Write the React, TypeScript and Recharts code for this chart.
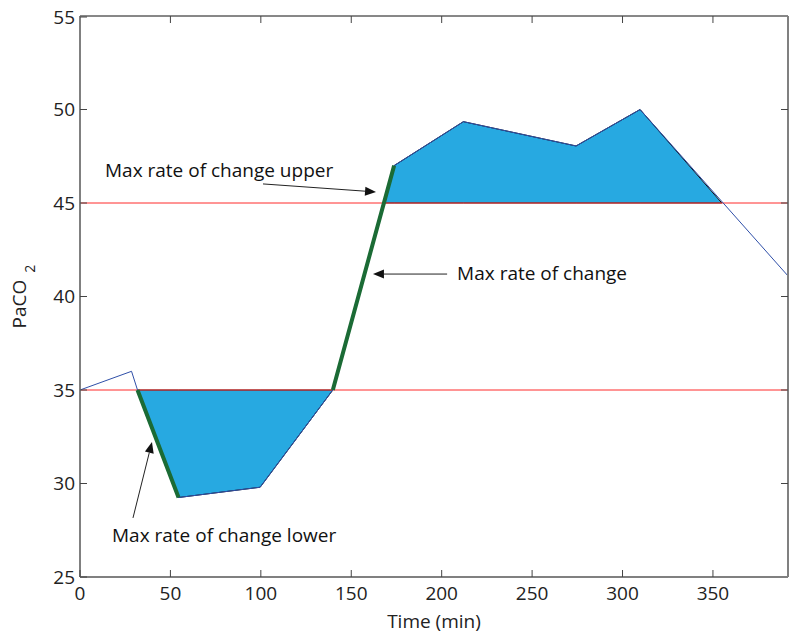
import React from 'react';
import {
  ComposedChart,
  Line,
  Area,
  XAxis,
  YAxis,
  ReferenceLine,
} from 'recharts';

const FONT = '"Open Sans", sans-serif';

// PaCO2 trace
const TIME = [0, 28.5, 31.8, 54.5, 99.6, 139.8, 173.7, 212, 274.3, 309.7, 391.5];
const PACO2 = [35, 36, 35, 29.25, 29.8, 35, 47, 49.35, 48.05, 50, 41.1];

// steepest segments (time range)
const STEEP_LOWER = [31.8, 54.5];
const STEEP_UPPER = [139.8, 173.7];

const LOWER_LIMIT = 35;
const UPPER_LIMIT = 45;

// shaded excursions outside the limits
const LOWER_BAND_TIME = [31.8, 54.5, 99.6, 139.8];
const LOWER_BAND_VALUE = [35, 29.25, 29.8, 35];
const UPPER_BAND_TIME = [168.2, 173.7, 212, 274.3, 309.7, 354.9];
const UPPER_BAND_VALUE = [45, 47, 49.35, 48.05, 50, 45];

const X_DOMAIN = [0, 391.5];
const Y_DOMAIN = [25, 55];
const X_TICKS = [0, 50, 100, 150, 200, 250, 300, 350];
const Y_TICKS = [25, 30, 35, 40, 45, 50, 55];

const isSteep = (t: number) =>
  STEEP_LOWER.includes(t) || STEEP_UPPER.includes(t);

const trace = TIME.map((t, i) => ({
  t,
  paco2: PACO2[i],
  steep: isSteep(t) ? PACO2[i] : null,
}));

const lowerBand = LOWER_BAND_TIME.map((t, i) => ({
  t,
  band: [LOWER_LIMIT, LOWER_BAND_VALUE[i]],
}));
const upperBand = UPPER_BAND_TIME.map((t, i) => ({
  t,
  band: [UPPER_LIMIT, UPPER_BAND_VALUE[i]],
}));

// annotation arrows: tail -> head in data coords, text offset from tail in px
const ANNOTATIONS = [
  { text: 'Max rate of change upper', tail: [101.2, 46.02], head: [163.7, 45.59], dx: -158, dy: -7 },
  { text: 'Max rate of change', tail: [203, 41.2], head: [162, 41.2], dx: 10, dy: 6 },
  { text: 'Max rate of change lower', tail: [29.3, 28.16], head: [39.8, 32.22], dx: -21, dy: 24 },
];

const TICK_LEN = 7;
const LEFT_MARGIN = 5;
const BOTTOM_MARGIN = 10;

const LeftTick = (props: any) => {
  const { x, y, payload } = props;
  const axisX = x + LEFT_MARGIN;
  return (
    <g>
      <line x1={axisX} y1={y} x2={axisX + TICK_LEN} y2={y} stroke="#444" />
      <text x={x} y={y} dy="0.355em" textAnchor="end" fontSize={19} fontFamily={FONT} fill="#222">
        {payload.value}
      </text>
    </g>
  );
};

const BottomTick = (props: any) => {
  const { x, y, payload } = props;
  const axisY = y - BOTTOM_MARGIN;
  return (
    <g>
      <line x1={x} y1={axisY} x2={x} y2={axisY - TICK_LEN} stroke="#444" />
      <text x={x} y={y} dy="0.71em" textAnchor="middle" fontSize={19} fontFamily={FONT} fill="#222">
        {payload.value}
      </text>
    </g>
  );
};

// mirrored tick marks on the top and right edges of the box
const TopTickShape = (props: any) => {
  const { x1, y1, y2 } = props;
  const top = Math.min(y1, y2);
  return <line x1={x1} y1={top} x2={x1} y2={top + TICK_LEN} stroke="#444" />;
};

const RightTickShape = (props: any) => {
  const { x1, x2, y1 } = props;
  const right = Math.max(x1, x2);
  return <line x1={right} y1={y1} x2={right - TICK_LEN} y2={y1} stroke="#444" />;
};

const arrowShape = (text: string, dx: number, dy: number) => (props: any) => {
  const { x1, y1, x2, y2 } = props;
  const ang = Math.atan2(y2 - y1, x2 - x1);
  const len = 11;
  const w = 4.5;
  const bx = x2 - len * Math.cos(ang);
  const by = y2 - len * Math.sin(ang);
  const px = -Math.sin(ang) * w;
  const py = Math.cos(ang) * w;
  return (
    <g>
      <line x1={x1} y1={y1} x2={bx} y2={by} stroke="#222" strokeWidth={1} />
      <polygon points={`${x2},${y2} ${bx + px},${by + py} ${bx - px},${by - py}`} fill="#111" />
      <text x={x1 + dx} y={y1 + dy} fontSize={19} fontFamily={FONT} fill="#111">
        {text}
      </text>
    </g>
  );
};

const YLabel = (props: any) => {
  const { viewBox } = props;
  const cx = 18;
  const cy = viewBox.y + viewBox.height / 2;
  return (
    <text
      x={cx}
      y={cy}
      transform={`rotate(-90, ${cx}, ${cy})`}
      textAnchor="middle"
      fontSize={19}
      fontFamily={FONT}
      fill="#222"
    >
      PaCO
      <tspan dx={7} dy={9} fontSize={14}>2</tspan>
    </text>
  );
};

export default function App() {
  return (
    <ComposedChart
      width={792}
      height={626}
      data={trace}
      margin={{ top: 8, right: 12, left: 0, bottom: 0 }}
      style={{ fontFamily: FONT }}
    >
      <XAxis
        dataKey="t"
        type="number"
        domain={X_DOMAIN}
        allowDataOverflow
        ticks={X_TICKS}
        tickLine={false}
        tickSize={0}
        tickMargin={BOTTOM_MARGIN}
        tick={<BottomTick />}
        height={57}
        axisLine={{ stroke: '#808080', strokeWidth: 2 }}
        label={{ value: 'Time (min)', position: 'insideBottom', offset: 6, fontSize: 19, fill: '#222', fontFamily: FONT }}
      />
      <YAxis
        type="number"
        domain={Y_DOMAIN}
        allowDataOverflow
        ticks={Y_TICKS}
        tickLine={false}
        tickSize={0}
        tickMargin={LEFT_MARGIN}
        tick={<LeftTick />}
        width={72}
        axisLine={{ stroke: '#808080', strokeWidth: 2 }}
        label={<YLabel />}
      />
      <ReferenceLine y={LOWER_LIMIT} stroke="#ff2a2a" strokeWidth={1} />
      <ReferenceLine y={UPPER_LIMIT} stroke="#ff2a2a" strokeWidth={1} />
      <Line
        dataKey="paco2"
        stroke="#2f4fa8"
        strokeWidth={1}
        dot={false}
        activeDot={false}
        isAnimationActive={false}
        type="linear"
      />
      <Area
        data={lowerBand}
        dataKey="band"
        type="linear"
        fill="#27a9e1"
        fillOpacity={1}
        stroke="#111"
        strokeWidth={1}
        dot={false}
        activeDot={false}
        isAnimationActive={false}
      />
      <Area
        data={upperBand}
        dataKey="band"
        type="linear"
        fill="#27a9e1"
        fillOpacity={1}
        stroke="#111"
        strokeWidth={1}
        dot={false}
        activeDot={false}
        isAnimationActive={false}
      />
      <Line
        dataKey="steep"
        stroke="#1b6b35"
        strokeWidth={4}
        dot={false}
        activeDot={false}
        isAnimationActive={false}
        type="linear"
      />
      {/* box: top and right edges with inward ticks */}
      <ReferenceLine y={Y_DOMAIN[1]} stroke="#111" strokeWidth={1} />
      <ReferenceLine x={X_DOMAIN[1]} stroke="#808080" strokeWidth={2} />
      {X_TICKS.slice(1).map((v) => (
        <ReferenceLine key={`tx${v}`} x={v} shape={TopTickShape} />
      ))}
      {Y_TICKS.slice(1, -1).map((v) => (
        <ReferenceLine key={`ry${v}`} y={v} shape={RightTickShape} />
      ))}
      {ANNOTATIONS.map((a) => (
        <ReferenceLine
          key={a.text}
          segment={[
            { x: a.tail[0], y: a.tail[1] },
            { x: a.head[0], y: a.head[1] },
          ]}
          shape={arrowShape(a.text, a.dx, a.dy)}
        />
      ))}
    </ComposedChart>
  );
}
